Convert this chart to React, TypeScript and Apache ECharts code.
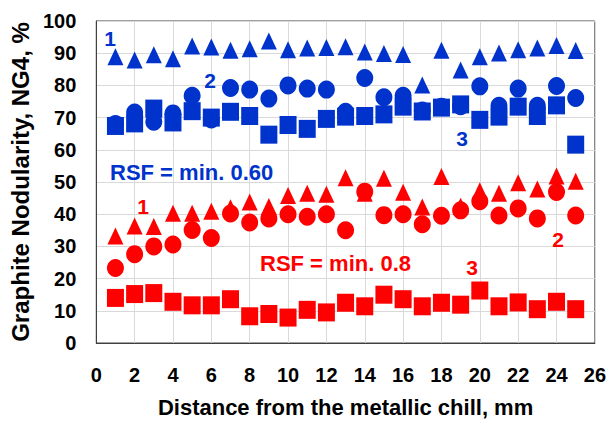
import React, { useEffect, useRef } from "react";
import * as echarts from "echarts";

const distances = [1, 2, 3, 4, 5, 6, 7, 8, 9, 10, 11, 12, 13, 14, 15, 16, 17, 18, 19, 20, 21, 22, 23, 24, 25];
const blueTriangle = [88.9, 87.9, 89.5, 88.3, 92.2, 91.9, 90.9, 91.4, 93.8, 91.1, 91.6, 91.8, 92.0, 90.4, 89.9, 89.6, 80.1, 90.9, 84.8, 88.9, 90.1, 91.1, 91.6, 92.4, 90.8];
const blueCircle = [68, 71.6, 68.7, 71.3, 76.8, 69.4, 79.2, 78.7, 75.9, 80, 79, 78.7, 71.8, 82.3, 76.3, 76.8, 72.2, 73.4, 73.5, 79.7, 73.7, 79, 73.7, 79.8, 76.1];
const blueSquare = [67.4, 68.2, 72.8, 68.5, 72, 70, 71.8, 70.5, 64.7, 67.7, 66.5, 69.6, 70.3, 70.5, 71, 73.4, 71.9, 73.1, 74.1, 69.3, 70.3, 73.4, 70.5, 73.8, 61.6];
const redTriangle = [33.2, 36.3, 36.2, 40.3, 40.3, 40.9, 42, 43.8, 42.4, 45.8, 46.5, 46.2, 51.3, 46.5, 51.2, 46.8, 42.2, 51.7, 42.5, 47.3, 46.5, 49.8, 47.8, 51.9, 50.2];
const redCircle = [23.3, 27.6, 30, 30.6, 35.1, 32.6, 40.2, 37.4, 38.7, 40, 39.2, 40, 35, 47, 39.7, 40, 36.9, 39.5, 41.2, 44, 39.6, 41.8, 38.7, 46.9, 39.6];
const redSquare = [14, 15.2, 15.5, 12.8, 11.7, 11.7, 13.6, 8.3, 9, 7.9, 10.3, 9.5, 12.5, 11.4, 15, 13.6, 11.4, 12.5, 11.9, 16.3, 11.4, 12.6, 10.5, 12.8, 10.5];

const BLUE = "#0033cc";
const RED = "#ff0000";
const FONT = "'Liberation Sans', Arial, sans-serif";

function pts(vals: number[]) {
  return vals.map((v, i) => [distances[i], v]);
}

function sc(name: string, vals: number[], symbol: string, size: number[], color: string) {
  return {
    name,
    type: "scatter",
    data: pts(vals),
    symbol,
    symbolSize: size,
    itemStyle: { color, opacity: 1 },
    z: 3,
  };
}

function txt(text: string, x: number, y: number, color: string, size = 21, align = "center") {
  return {
    type: "text",
    x,
    y,
    z: 10,
    style: {
      text,
      fill: color,
      font: `bold ${size}px ${FONT}`,
      textAlign: align,
      textVerticalAlign: "middle",
    },
  };
}

export default function App() {
  const ref = useRef<HTMLDivElement>(null);
  useEffect(() => {
    const chart = echarts.init(ref.current!, undefined, { renderer: "svg" });
    chart.setOption({
      animation: false,
      backgroundColor: "#ffffff",
      grid: {
        left: 92,
        top: 21,
        width: 507,
        height: 325,
        show: true,
        borderColor: "#404040",
        borderWidth: 1,
        containLabel: false,
      },
      xAxis: {
        type: "value",
        min: 0,
        max: 26,
        interval: 2,
        name: "Distance from the metallic chill, mm",
        nameLocation: "middle",
        nameGap: 53,
        nameTextStyle: { fontFamily: FONT, fontWeight: "bold", fontSize: 22, color: "#000" },
        axisLine: { show: true, lineStyle: { color: "#404040", width: 1 } },
        axisTick: { show: false },
        axisLabel: { fontFamily: FONT, fontWeight: "bold", fontSize: 20, color: "#000", margin: 22 },
        splitLine: { show: true, lineStyle: { color: "#d9d9d9", width: 1 } },
      },
      yAxis: {
        type: "value",
        min: 0,
        max: 100,
        interval: 10,
        name: "Graphite Nodularity, NG4, %",
        nameLocation: "middle",
        nameGap: 59,
        nameTextStyle: { fontFamily: FONT, fontWeight: "bold", fontSize: 24, color: "#000" },
        axisLine: { show: true, lineStyle: { color: "#404040", width: 1 } },
        axisTick: { show: false },
        axisLabel: { fontFamily: FONT, fontWeight: "bold", fontSize: 20, color: "#000", margin: 20 },
        splitLine: { show: true, lineStyle: { color: "#d9d9d9", width: 1 } },
      },
      series: [
        sc("Blue 3", blueSquare, "rect", [17, 18], BLUE),
        sc("Blue 2", blueCircle, "circle", [17, 18], BLUE),
        sc("Blue 1", blueTriangle, "triangle", [16, 17], BLUE),
        sc("Red 3", redSquare, "rect", [17, 18], RED),
        sc("Red 2", redCircle, "circle", [17, 18], RED),
        sc("Red 1", redTriangle, "triangle", [16, 17], RED),
      ],
      graphic: [
        txt("1", 110, 38, BLUE),
        txt("2", 210, 80, BLUE),
        txt("3", 462, 138, BLUE),
        txt("RSF = min. 0.60", 110, 172, BLUE, 22, "left"),
        txt("1", 143, 206, RED),
        txt("RSF = min. 0.8", 260, 263, RED, 22, "left"),
        txt("3", 472, 267, RED),
        txt("2", 558, 239, RED),
      ],
    });
    return () => chart.dispose();
  }, []);
  return (
    <div
      ref={ref}
      style={{ position: "fixed", left: 0, top: 0, width: 609, height: 423, background: "#fff" }}
    />
  );
}
